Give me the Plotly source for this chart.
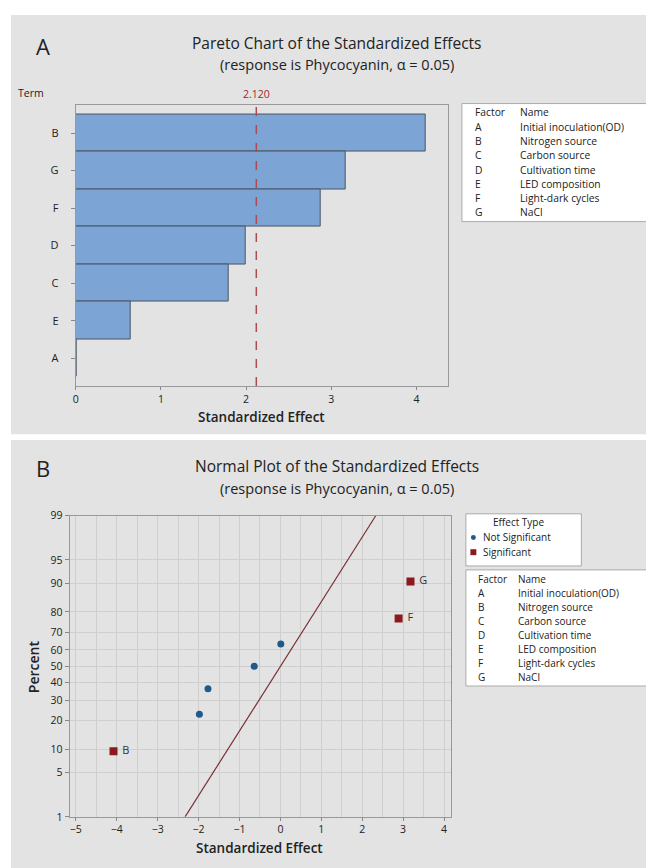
import plotly.graph_objects as go
from statistics import NormalDist

# ---------------- data ----------------
# Pareto chart (panel A)
pareto_terms = ["B", "G", "F", "D", "C", "E", "A"]
pareto_effects = [4.11, 3.17, 2.88, 1.99, 1.80, 0.64, 0.01]
critical_value = 2.120

# Normal plot (panel B)
np_terms = ["B", "D", "C", "E", "A", "F", "G"]
np_effects = [-4.08, -1.98, -1.77, -0.64, 0.01, 2.89, 3.18]
np_percent = [9.5, 23.0, 36.5, 50.0, 63.5, 77.0, 90.5]
np_significant = [True, False, False, False, False, True, True]
fit_line_effect = [-2.33, 2.33]
fit_line_percent = [1, 99]
percent_ticks = [1, 5, 10, 20, 30, 40, 50, 60, 70, 80, 90, 95, 99]

factor_codes = ["A", "B", "C", "D", "E", "F", "G"]
factor_names = ["Initial inoculation(OD)", "Nitrogen source", "Carbon source",
                "Cultivation time", "LED composition", "Light-dark cycles", "NaCl"]

# ---------------- helpers ----------------
W, H = 654, 868
OFF = 8  # page body margin offset
FONT = "Open Sans"


def X(px):
    return (px - OFF) / W


def Y(py):
    return 1 - (py - OFF) / H


def z(p):
    return NormalDist().inv_cdf(p / 100.0)


fig = go.Figure()

# Panel A bars
fig.add_trace(go.Bar(
    x=pareto_effects, y=pareto_terms, orientation="h", width=1,
    marker=dict(color="#7CA4D5", line=dict(color="#4B5563", width=1)),
    xaxis="x", yaxis="y", showlegend=False, hoverinfo="x+y"))

# Panel B points
ns_x = [e for e, s in zip(np_effects, np_significant) if not s]
ns_y = [z(p) for p, s in zip(np_percent, np_significant) if not s]
s_x = [e for e, s in zip(np_effects, np_significant) if s]
s_y = [z(p) for p, s in zip(np_percent, np_significant) if s]
s_t = [t for t, s in zip(np_terms, np_significant) if s]

fig.add_trace(go.Scatter(
    x=list(fit_line_effect), y=[z(p) for p in fit_line_percent],
    mode="lines", line=dict(color="#7A3036", width=1.2),
    xaxis="x2", yaxis="y2", showlegend=False))
fig.add_trace(go.Scatter(
    x=ns_x, y=ns_y, mode="markers",
    marker=dict(color="#1F5A8C", size=7, symbol="circle"),
    xaxis="x2", yaxis="y2", showlegend=False))
fig.add_trace(go.Scatter(
    x=s_x, y=s_y, mode="markers+text", text=[" " + t for t in s_t],
    textposition="middle right",
    textfont=dict(family=FONT, size=11, color="#333333"),
    marker=dict(color="#8B1A1E", size=8, symbol="square"),
    xaxis="x2", yaxis="y2", showlegend=False))

tickfont = dict(family=FONT, size=10.5, color="#222222")
GRID = "#CFCFCF"

layout = dict(
    width=W, height=H, margin=dict(l=0, r=0, t=0, b=0),
    paper_bgcolor="white", plot_bgcolor="white",
    font=dict(family=FONT, color="#222222"),
    bargap=0,
    xaxis=dict(domain=[X(73), X(447)], range=[0, 4.37], dtick=1, tick0=0,
               ticks="outside", ticklen=3, tickcolor="#888888",
               showline=True, linecolor="#999999", mirror=True,
               showgrid=False, zeroline=False, tickfont=tickfont),
    yaxis=dict(domain=[Y(385), Y(99)], type="category",
               categoryorder="array", categoryarray=pareto_terms[::-1],
               range=[-0.74, 6.76], ticks="outside", ticklen=4,
               ticklabelstandoff=10,
               tickcolor="#888888", showline=True, linecolor="#999999",
               mirror=True, showgrid=False, zeroline=False,
               tickfont=dict(family=FONT, size=11, color="#222222")),
    xaxis2=dict(domain=[X(67), X(450)], range=[-5.15, 4.17], dtick=1, tick0=0,
                ticks="outside", ticklen=3, tickcolor="#888888",
                showline=True, linecolor="#999999", mirror=True,
                showgrid=True, gridcolor=GRID, zeroline=False,
                minor=dict(dtick=0.5, tick0=0, showgrid=True, gridcolor=GRID),
                tickfont=tickfont, anchor="y2"),
    yaxis2=dict(domain=[Y(823), Y(517)], range=[z(1), z(99)],
                tickvals=[z(p) for p in percent_ticks],
                ticktext=[str(p) for p in percent_ticks],
                ticks="outside", ticklen=4, tickcolor="#888888",
                showline=True, linecolor="#999999", mirror=True,
                showgrid=True, gridcolor=GRID, zeroline=False,
                tickfont=dict(family=FONT, size=10.5, color="#222222"),
                anchor="x2"),
)

shapes = []
# panel backgrounds
shapes.append(dict(type="rect", xref="paper", yref="paper", x0=0, x1=1,
                   y0=Y(434), y1=1, fillcolor="#E3E3E3", line=dict(width=0),
                   layer="below"))
shapes.append(dict(type="rect", xref="paper", yref="paper", x0=0, x1=1,
                   y0=0, y1=Y(440), fillcolor="#E3E3E3", line=dict(width=0),
                   layer="below"))
# critical value line
shapes.append(dict(type="line", xref="x", yref="y domain", x0=critical_value,
                   x1=critical_value, y0=0, y1=1.015,
                   line=dict(color="#B04A4E", width=1.5, dash="dash")))
# legend boxes
shapes.append(dict(type="rect", xref="paper", yref="paper", x0=X(461), x1=X(647),
                   y0=Y(218), y1=Y(98), fillcolor="white",
                   line=dict(color="#AAAAAA", width=1)))
shapes.append(dict(type="rect", xref="paper", yref="paper", x0=X(465), x1=X(581),
                   y0=Y(568), y1=Y(515), fillcolor="white",
                   line=dict(color="#AAAAAA", width=1)))
shapes.append(dict(type="rect", xref="paper", yref="paper", x0=X(465), x1=X(652),
                   y0=Y(690), y1=Y(572), fillcolor="white",
                   line=dict(color="#AAAAAA", width=1)))
# effect type legend symbols
shapes.append(dict(type="circle", xref="paper", yref="paper", x0=X(470), x1=X(475),
                   y0=Y(541.5), y1=Y(536.5), fillcolor="#1F5A8C",
                   line=dict(color="#1F5A8C", width=0)))
shapes.append(dict(type="rect", xref="paper", yref="paper", x0=X(469.5), x1=X(475.5),
                   y0=Y(557), y1=Y(551), fillcolor="#8B1A1E",
                   line=dict(color="#8B1A1E", width=0)))
layout["shapes"] = shapes

ann = []


def text(x, y, s, size=10, xanchor="left", color="#222222", weight=None, **kw):
    f = dict(family=FONT, size=size, color=color)
    if weight:
        f["weight"] = weight
    ann.append(dict(x=X(x), y=Y(y), xref="paper", yref="paper", text=s,
                    showarrow=False, xanchor=xanchor, yanchor="middle",
                    font=f, **kw))


LEG_A = 10.3
LEG_B = 10

# Panel A texts
text(40, 40, "A", size=22, xanchor="center")
text(335, 36, "Pareto Chart of the Standardized Effects", size=15.5, xanchor="center")
text(335, 58, "(response is Phycocyanin, α = 0.05)", size=14.5, xanchor="center")
text(28, 87, "Term", size=10.5, xanchor="center")
ann.append(dict(x=critical_value, y=Y(88), xref="x", yref="paper",
                text=f"{critical_value:.3f}", showarrow=False, xanchor="center",
                yanchor="middle", font=dict(family=FONT, size=10.5, color="#A0282D")))
text(260, 417, "Standardized Effect", size=13.5, xanchor="center", weight=600)

# Panel A factor table
text(472, 107, "Factor", size=LEG_A)
text(517, 107, "Name", size=LEG_A)
for i, (c, n) in enumerate(zip(factor_codes, factor_names)):
    yy = 122 + i * 14.4
    text(472, yy, c, size=LEG_A)
    text(517, yy, n, size=LEG_A)

# Panel B texts
text(40, 468, "B", size=22, xanchor="center")
text(336, 466, "Normal Plot of the Standardized Effects", size=15.5, xanchor="center")
text(336, 489, "(response is Phycocyanin, α = 0.05)", size=14.5, xanchor="center")
text(258, 855, "Standardized Effect", size=13.5, xanchor="center", weight=600)
ann.append(dict(x=X(30), y=Y(670), xref="paper", yref="paper", text="Percent",
                showarrow=False, textangle=-90, xanchor="center", yanchor="middle",
                font=dict(family=FONT, size=14, color="#222222", weight=600)))

# Effect type legend
text(490, 523.5, "Effect Type", size=LEG_B)
text(480, 539, "Not Significant", size=LEG_B)
text(480, 554, "Significant", size=LEG_B)

# Panel B factor table
text(475, 581, "Factor", size=LEG_B)
text(515, 581, "Name", size=LEG_B)
for i, (c, n) in enumerate(zip(factor_codes, factor_names)):
    yy = 595.5 + i * 14.2
    text(475, yy, c, size=LEG_B)
    text(515, yy, n, size=LEG_B)

layout["annotations"] = ann
fig.update_layout(**layout)
fig.write_html("out.html")
